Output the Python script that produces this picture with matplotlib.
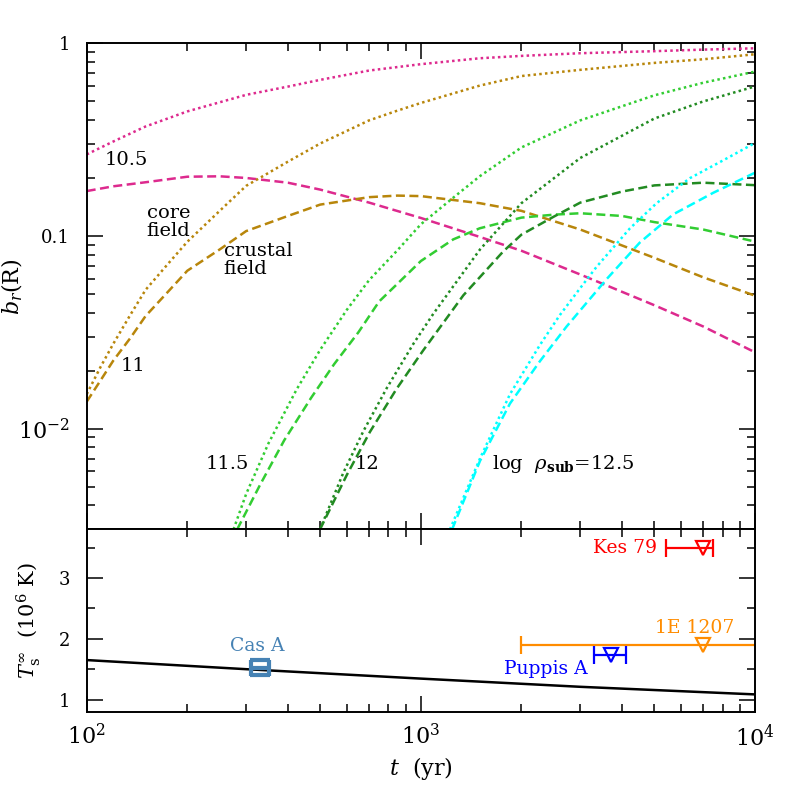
import matplotlib
matplotlib.use('Agg')
import matplotlib.pyplot as plt
from matplotlib.ticker import LogLocator, NullFormatter, MultipleLocator

plt.rcParams['font.family'] = 'DejaVu Serif'
plt.rcParams['mathtext.fontset'] = 'dejavuserif'

# --- top panel: b_r(R) vs t, core field (dotted) and crustal field (dashed)
t_105 = [100, 120, 150, 200, 250, 300, 400, 500, 700, 1000, 1500, 2000, 3000, 5000, 7000, 10000]
core_105 = [0.265, 0.309, 0.37, 0.443, 0.494, 0.54, 0.596, 0.646, 0.722, 0.779, 0.836, 0.86, 0.888,
            0.91, 0.927, 0.942]
crust_105 = [0.171, 0.181, 0.19, 0.203, 0.204, 0.2, 0.189, 0.174, 0.149, 0.124, 0.0989, 0.0838, 0.0631,
             0.0437, 0.0339, 0.0249]

t_11 = [100, 110, 120, 135, 150, 175, 200, 250, 300, 400, 500, 700, 850, 1000, 1500, 2000, 3000,
        5000, 7000, 10000]
core_11 = [0.0151, 0.0209, 0.0275, 0.0389, 0.0525, 0.0716, 0.0933, 0.135, 0.182, 0.243, 0.302, 0.398,
           0.447, 0.49, 0.603, 0.676, 0.728, 0.791, 0.826, 0.877]
crust_11 = [0.0138, 0.0178, 0.0225, 0.0295, 0.0384, 0.0513, 0.066, 0.0851, 0.106, 0.127, 0.1455, 0.159,
            0.162, 0.161, 0.148, 0.135, 0.108, 0.077, 0.061, 0.049]

t_core_115 = [275, 300, 350, 425, 500, 600, 700, 850, 1000, 1250, 1500, 2000, 3000, 5000, 7000, 10000]
core_115 = [0.0030, 0.00458, 0.0084, 0.016, 0.0257, 0.0413, 0.059, 0.0841, 0.115, 0.158, 0.204, 0.288,
            0.398, 0.537, 0.624, 0.713]
t_crust_115 = [282, 330, 390, 470, 550, 650, 750, 1000, 1250, 1500, 2000, 2500, 3000, 4000, 5000, 7000,
               10000]
crust_115 = [0.0030, 0.0051, 0.0087, 0.0145, 0.0216, 0.0316, 0.0457, 0.0741, 0.096, 0.1096, 0.1245,
             0.129, 0.1312, 0.127, 0.118, 0.108, 0.0935]

t_core_12 = [499, 586, 672, 790, 949, 1089, 1222, 1503, 2000, 3000, 5000, 7000, 10000]
core_12 = [0.0030, 0.0059, 0.00966, 0.0162, 0.0275, 0.0394, 0.0519, 0.0851, 0.148, 0.254, 0.407, 0.499,
           0.597]
t_crust_12 = [499, 600, 704, 846, 1015, 1340, 1765, 2000, 2500, 3000, 4000, 5000, 7000, 10000]
crust_12 = [0.0030, 0.00574, 0.00962, 0.0161, 0.0254, 0.0492, 0.0832, 0.1016, 0.126, 0.149, 0.17,
            0.183, 0.189, 0.1835]

t_core_125 = [1222, 1503, 1848, 2272, 2607, 3000, 3357, 4225, 5076, 6383, 8035, 10000]
core_125 = [0.0030, 0.0070, 0.0151, 0.0272, 0.0389, 0.0537, 0.0692, 0.1096, 0.148, 0.1995, 0.247, 0.304]
t_crust_125 = [1240, 1503, 1848, 2272, 2730, 3597, 4523, 5690, 7499, 10000]
crust_125 = [0.0030, 0.0068, 0.0135, 0.0224, 0.0339, 0.0597, 0.0925, 0.1294, 0.1675, 0.213]

# --- bottom panel: surface temperature (10^6 K)
t_cool = [100, 300, 1000, 3000, 10000]
T_cool = [1.65, 1.50, 1.345, 1.21, 1.085]

# name, age, age_lo, age_hi, T, colour
sources = [
    ("Kes 79", 7000, 5400, 7500, 3.5, "red"),
    ("1E 1207", 7000, 2000, 20000, 1.9, "darkorange"),
    ("Puppis A", 3700, 3300, 4100, 1.73, "blue"),
]
casa_t, casa_tlo, casa_thi = 330, 310, 350
casa_T, casa_Terr = 1.52, 0.123


def style_axis(ax):
    """inward ticks on all four sides, PGPLOT-ish"""
    ax.tick_params(which='both', direction='in', top=True, right=True, width=1.1)
    ax.tick_params(which='major', length=11.5)
    ax.tick_params(which='minor', length=5.8)
    for sp in ax.spines.values():
        sp.set_linewidth(1.4)


def plot_fields(ax):
    dot = (0, (1, 1.3))
    dash = (0, (3.6, 1.8))
    lw = 1.8
    curves = [
        (t_105, core_105, t_105, crust_105, '#dd2a8e'),
        (t_11, core_11, t_11, crust_11, '#b8860b'),
        (t_core_115, core_115, t_crust_115, crust_115, '#32cd32'),
        (t_core_12, core_12, t_crust_12, crust_12, '#228b22'),
        (t_core_125, core_125, t_crust_125, crust_125, '#00ffff'),
    ]
    for tc, bc, tk, bk, col in curves:
        ax.plot(tc, bc, color=col, lw=lw, ls=dot)
        ax.plot(tk, bk, color=col, lw=lw, ls=dash)

    fs = 14
    ax.text(131, 0.249, "10.5", fontsize=fs, ha='center', va='center')
    ax.text(151, 0.1184, "core\nfield", fontsize=fs, ha='left', va='center', linespacing=1.0)
    ax.text(257, 0.075, "crustal\nfield", fontsize=fs, ha='left', va='center', linespacing=1.0)
    ax.text(137.5, 0.0212, "11", fontsize=fs, ha='center', va='center')
    ax.text(263, 0.00652, "11.5", fontsize=fs, ha='center', va='center')
    ax.text(692, 0.00652, "12", fontsize=fs, ha='center', va='center')
    ax.text(1632, 0.00652, r"log  $\rho_{\mathbf{sub}}$=12.5", fontsize=fs, ha='left', va='center')

    ax.set_xscale('log')
    ax.set_yscale('log')
    ax.set_xlim(1e2, 1e4)
    ax.set_ylim(3e-3, 1)
    ax.yaxis.set_minor_locator(LogLocator(base=10, subs=range(2, 10)))
    ax.yaxis.set_minor_formatter(NullFormatter())
    ax.set_yticks([0.01, 0.1, 1])
    ax.set_yticklabels([r'$10^{-2}$', '0.1', '1'])
    for lab, fsz in zip(ax.get_yticklabels(), [16, 13, 13]):
        lab.set_fontsize(fsz)
    ax.tick_params(axis='y', pad=12)
    ax.tick_params(axis='x', labelbottom=False)
    ax.set_ylabel(r'$b_r(\mathrm{R})$', fontsize=16)
    ax.yaxis.set_label_coords(-0.092, 0.5)
    style_axis(ax)


def plot_temps(ax):
    ax.plot(t_cool, T_cool, color='black', lw=1.8)

    for name, age, lo, hi, T, col in sources:
        ax.errorbar(age, T, xerr=[[age - lo], [hi - age]], fmt='none', ecolor=col,
                    elinewidth=1.6, capsize=6.5, capthick=1.6)
        ax.plot(age, T, marker='v', ms=10, mfc='none', mec=col, mew=1.6, ls='none')

    fs = 13.5
    ax.text(5100, 3.5, "Kes 79", color='red', fontsize=fs, ha='right', va='center')
    ax.text(6600, 2.18, "1E 1207", color='darkorange', fontsize=fs, ha='center', va='center')
    ax.text(3160, 1.5, "Puppis A", color='blue', fontsize=fs, ha='right', va='center')

    # Cas A drawn as a small box with a bar through it
    ax.errorbar(casa_t, casa_T, xerr=[[casa_t - casa_tlo], [casa_thi - casa_t]], fmt='none',
                ecolor='steelblue', elinewidth=3.0, capsize=5.5, capthick=3.0, zorder=4)
    ax.errorbar(casa_t, casa_T, yerr=casa_Terr, fmt='none', ecolor='steelblue',
                elinewidth=0, capsize=7.0, capthick=3.0, zorder=4)
    ax.text(324, 1.88, "Cas A", color='steelblue', fontsize=fs, ha='center', va='center')

    ax.set_xscale('log')
    ax.set_xlim(1e2, 1e4)
    ax.set_ylim(0.8, 3.8)
    ax.xaxis.set_minor_locator(LogLocator(base=10, subs=range(2, 10)))
    ax.xaxis.set_minor_formatter(NullFormatter())
    ax.set_xticks([1e2, 1e3, 1e4])
    ax.set_xticklabels([r'$10^2$', r'$10^3$', r'$10^4$'], fontsize=16)
    ax.set_yticks([1, 2, 3])
    ax.set_yticklabels(['1', '2', '3'], fontsize=13)
    ax.yaxis.set_minor_locator(MultipleLocator(0.5))
    ax.tick_params(axis='y', pad=12)
    ax.tick_params(axis='x', pad=9)
    ax.set_ylabel(r'$T_{\rm s}^{\infty}$  (10$^6$ K)', fontsize=15)
    ax.yaxis.set_label_coords(-0.065, 0.5)
    ax.set_xlabel(r'$t$  (yr)', fontsize=16)
    ax.xaxis.set_label_coords(0.5, -0.31)
    ax.xaxis.label.set_verticalalignment('center')
    style_axis(ax)


fig = plt.figure(figsize=(7.97, 7.97), dpi=100)
gs = fig.add_gridspec(2, 1, height_ratios=[8, 3], hspace=0,
                      left=0.1088, right=0.9473, top=0.9457, bottom=0.107)
ax_top = fig.add_subplot(gs[0])
ax_bot = fig.add_subplot(gs[1], sharex=ax_top)

plot_fields(ax_top)
plot_temps(ax_bot)

fig.savefig('out.png', dpi=100)
